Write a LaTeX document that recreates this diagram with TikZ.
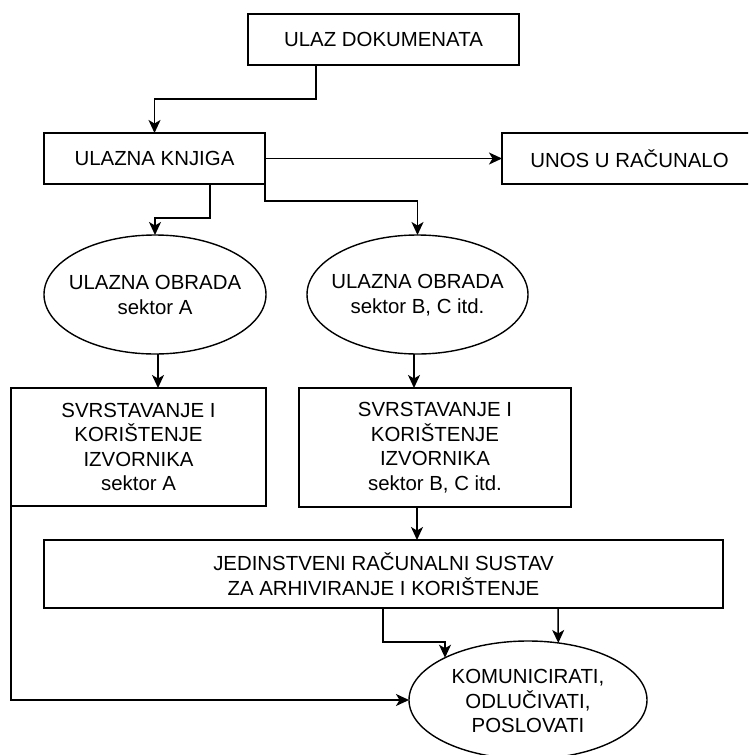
\documentclass[tikz,border=0pt]{standalone}
\usepackage{fontspec}
\setmainfont{Liberation Sans}
\usetikzlibrary{arrows.meta,shapes.geometric,calc}
\newcommand\diafont{\fontsize{20.4}{24.5}\selectfont}
\begin{document}
\begin{tikzpicture}[x=1pt,y=-1pt,
  every node/.style={inner sep=0pt, outer sep=0pt},
  box/.style={draw, line width=1.5pt, rectangle, font=\diafont, align=center},
  ell/.style={draw, line width=1.4pt, ellipse},
  txt/.style={font=\diafont, align=center},
  arr/.style={line width=1.5pt, -{Stealth[length=13pt,width=12pt,inset=3.5pt]}}]
\useasboundingbox (0,0) rectangle (748,755);
\clip (0,0) rectangle (748,755);
\fill[white] (0,0) rectangle (748,755);

\node[box, minimum width=271pt, minimum height=51pt] (ulaz) at (383.5,39.5) {ULAZ DOKUMENATA};
\node[box, minimum width=221pt, minimum height=51pt] (knjiga) at (154.5,158.5) {ULAZNA KNJIGA};
\node[box, minimum width=255pt, minimum height=51pt] (unos) at (629.5,158.5) {UNOS U RAČUNALO};

\node[ell, minimum width=222pt, minimum height=119pt] (obA) at (155,294.5) {};
\node[txt] (obAt) at (155,295) {ULAZNA OBRADA\\sektor A};
\node[ell, minimum width=221pt, minimum height=119pt] (obB) at (417.5,294.5) {};
\node[txt] (obBt) at (417.5,295) {ULAZNA OBRADA\\sektor B, C itd.};

\node[box, minimum width=255pt, minimum height=118pt] (svA) at (138.5,447) {SVRSTAVANJE I\\KORIŠTENJE\\IZVORNIKA\\sektor A};
\node[box, minimum width=272pt, minimum height=119pt] (svB) at (435,447.5) {SVRSTAVANJE I\\KORIŠTENJE\\IZVORNIKA\\sektor B, C itd.};

\node[box, minimum width=679pt, minimum height=68pt] (jed) at (383.5,574) {JEDINSTVENI RAČUNALNI SUSTAV\\ZA ARHIVIRANJE I KORIŠTENJE};

\node[ell, minimum width=238pt, minimum height=118pt] (kom) at (528,700) {};
\node[txt] (komt) at (528,701) {KOMUNICIRATI,\\ODLUČIVATI,\\POSLOVATI};

\draw[arr] ([xshift=-67.5pt]ulaz.south) -- ++(0,34) -| (knjiga.north);
\draw[arr] (knjiga.east) -- (unos.west);
\draw[arr] ([xshift=55.5pt]knjiga.south) -- ++(0,34) -| (obA.north);
\draw[arr] (knjiga.south east) -- ++(0,17) -| (obB.north);
\draw[arr] ([xshift=3pt]obA.south) -- ([xshift=3pt]obA.south |- svA.north);
\draw[arr] ([xshift=-3.5pt]obB.south) -- ([xshift=-3.5pt]obB.south |- svB.north);
\draw[arr] ([xshift=-18pt]svB.south) -- ([xshift=-18pt]svB.south |- jed.north);
\draw[arr] ([xshift=-0.5pt]jed.south) -- ++(0,34) -| (kom.153);
\draw[arr] ([xshift=174.5pt]jed.south) -- (kom.62.3);
\draw[arr] (svA.south west) |- (kom.west);
\end{tikzpicture}
\end{document}
